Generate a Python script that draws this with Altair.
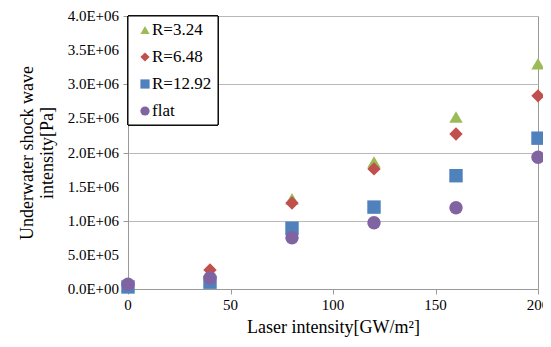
import altair as alt
import pandas as pd

laser = [0, 40, 80, 120, 160, 200]
series = ["R=3.24", "R=6.48", "R=12.92", "flat"]
r324 = [0.05e6, 0.26e6, 1.32e6, 1.86e6, 2.52e6, 3.30e6]
r648 = [0.05e6, 0.28e6, 1.26e6, 1.76e6, 2.27e6, 2.83e6]
r1292 = [0.03e6, 0.10e6, 0.89e6, 1.20e6, 1.66e6, 2.21e6]
flat = [0.07e6, 0.16e6, 0.75e6, 0.97e6, 1.19e6, 1.93e6]

x_ticks = [0, 50, 100, 150, 200]
x_labels = ["0", "50", "100", "150", "200"]
y_ticks = [0, 5e5, 1e6, 1.5e6, 2e6, 2.5e6, 3e6, 3.5e6, 4e6]
y_labels = ["0.0E+00", "5.0E+05", "1.0E+06", "1.5E+06", "2.0E+06",
            "2.5E+06", "3.0E+06", "3.5E+06", "4.0E+06"]

colors = ["#9BBB59", "#C0504D", "#4F81BD", "#8064A2"]
shapes = ["triangle-up", "diamond", "square", "circle"]

rows = []
for name, vals in zip(series, [r324, r648, r1292, flat]):
    for x, v in zip(laser, vals):
        rows.append({"laser": x, "p": v, "series": name})
df = pd.DataFrame(rows)

font = "Liberation Serif"
W, H = 410, 273

xs = alt.Scale(domain=[0, 200], nice=False)
ys = alt.Scale(domain=[0, 4e6], nice=False)
cs = alt.Scale(domain=series, range=colors)
ss = alt.Scale(domain=series, range=shapes)

points = alt.Chart(df).mark_point(filled=True, opacity=1, size=180).encode(
    x=alt.X("laser:Q", scale=xs,
            axis=alt.Axis(values=x_ticks, title="Laser intensity[GW/m²]", labels=False,
                          grid=False, titlePadding=24, titleFont=font, titleFontSize=18)),
    y=alt.Y("p:Q", scale=ys,
            axis=alt.Axis(values=y_ticks, labels=False,
                          title=["Underwater shock wave", "intensity[Pa]"], titlePadding=66,
                          titleFont=font, titleFontSize=18)),
    color=alt.Color("series:N", scale=cs, legend=None),
    shape=alt.Shape("series:N", scale=ss, legend=None),
)

ylab = alt.Chart(pd.DataFrame({"v": y_ticks, "t": y_labels})).mark_text(
    font=font, fontSize=15, align="right", baseline="middle", color="black", dx=-9
).encode(x=alt.value(0), y=alt.Y("v:Q", scale=ys), text="t:N")

xlab = alt.Chart(pd.DataFrame({"v": x_ticks, "t": x_labels})).mark_text(
    font=font, fontSize=15, align="center", baseline="top", color="black", dy=9
).encode(x=alt.X("v:Q", scale=xs), y=alt.value(H), text="t:N")

leg_df = pd.DataFrame({"series": series, "i": list(range(len(series)))})
box = alt.Chart(leg_df).mark_rect(fill="white", stroke="black", strokeWidth=1).encode(
    x=alt.value(0), x2=alt.value(90), y=alt.value(0), y2=alt.value(109))
leg_pts = alt.Chart(leg_df).transform_calculate(py="14 + datum.i * 27").mark_point(
    filled=True, opacity=1, size=85).encode(
    x=alt.value(17), y=alt.Y("py:Q", scale=None),
    color=alt.Color("series:N", scale=cs, legend=None),
    shape=alt.Shape("series:N", scale=ss, legend=None))
leg_txt = alt.Chart(leg_df).transform_calculate(py="14 + datum.i * 27").mark_text(
    font=font, fontSize=17, align="left", baseline="middle", color="black").encode(
    x=alt.value(24), y=alt.Y("py:Q", scale=None), text="series:N")

chart = alt.layer(points, ylab, xlab, box, leg_pts, leg_txt).properties(
    width=W, height=H,
    autosize=alt.AutoSizeParams(type="none"),
    padding={"left": 120, "top": 8, "right": 5, "bottom": 50},
).configure_axis(
    titleFontWeight="normal", titleColor="black",
    domainColor="#9a9a9a", tickColor="#9a9a9a", gridColor="#b8b8b8",
    tickSize=5,
).configure_view(stroke="#9a9a9a")

chart.save("out.html", embed_options={"renderer": "svg", "actions": False})
